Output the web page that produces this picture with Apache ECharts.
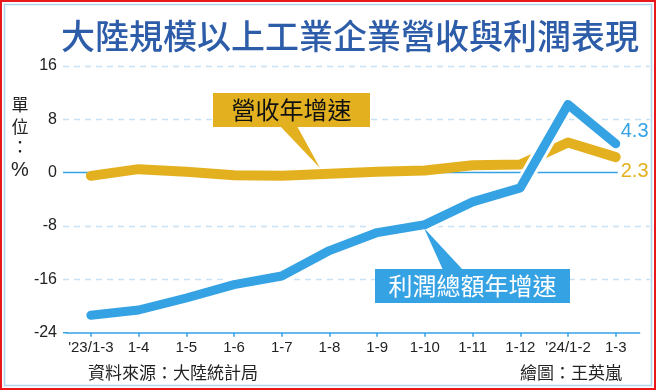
<!DOCTYPE html>
<html><head><meta charset="utf-8">
<script src="https://cdn.jsdelivr.net/npm/echarts@6/dist/echarts.min.js"></script>
<style>html,body{margin:0;padding:0;background:#fff}#c{width:656px;height:390px}</style>
</head><body><div id="c"></div>
<script>
const categories = ["'23/1-3","1-4","1-5","1-6","1-7","1-8","1-9","1-10","1-11","1-12","'24/1-2","1-3"];
const revenueGrowth = [-0.5, 0.5, 0.1, -0.4, -0.5, -0.2, 0.1, 0.3, 1.1, 1.2, 4.5, 2.3];
const profitGrowth = [-21.4, -20.6, -18.8, -16.8, -15.5, -11.7, -9.0, -7.8, -4.4, -2.3, 10.2, 4.3];
const yTicks = [16, 8, 0, -8, -16, -24];
const dashedLevels = [16, 8, -8, -16];

const BLUE = '#35a2e4';
const YELLOW = '#e3b120';
const CJK = '"Noto Sans CJK TC","Noto Sans CJK SC",sans-serif';
const LAT = '"Liberation Sans","DejaVu Sans",sans-serif';

const chart = echarts.init(document.getElementById('c'), null, {renderer: 'canvas'});
chart.setOption({
  animation: false,
  backgroundColor: '#fff',
  grid: {left: 67, right: 16.4, top: 65.7, bottom: 57.3, containLabel: false},
  xAxis: {
    type: 'category', data: categories, boundaryGap: true,
    axisLine: {onZero: false, lineStyle: {color: BLUE, width: 1.5}},
    axisTick: {show: true, alignWithLabel: true, length: 4, lineStyle: {color: BLUE, width: 1.5}},
    axisLabel: {color: '#222', fontSize: 15, fontFamily: '"Liberation Sans Narrow","Liberation Sans",sans-serif', margin: 8, interval: 0},
    splitLine: {show: false}
  },
  yAxis: {
    type: 'value', min: yTicks[yTicks.length - 1], max: yTicks[0], interval: 8,
    axisLine: {show: false}, axisTick: {show: false}, splitLine: {show: false},
    axisLabel: {color: '#222', fontSize: 16, fontFamily: LAT, margin: 10}
  },
  series: [
    {name: '營收年增速', type: 'line', data: revenueGrowth, symbol: 'none', z: 2,
     lineStyle: {color: YELLOW, width: 10, cap: 'round', join: 'round'},
     endLabel: {show: true, formatter: p => p.value.toFixed(1), color: YELLOW, fontSize: 20, fontFamily: LAT, distance: 5, offset: [0, 14]}},
    {name: 'outline', type: 'line', data: profitGrowth, symbol: 'none', z: 3, silent: true,
     lineStyle: {color: '#fff', width: 15, cap: 'round', join: 'round'}},
    {name: '利潤總額年增速', type: 'line', data: profitGrowth, symbol: 'none', z: 4,
     lineStyle: {color: BLUE, width: 9, cap: 'round', join: 'round'},
     endLabel: {show: true, formatter: p => p.value.toFixed(1), color: BLUE, fontSize: 20, fontFamily: LAT, distance: 5, offset: [0, -12]}}
  ]
});

const yPx = v => chart.convertToPixel({yAxisIndex: 0}, v);
const xPx = i => chart.convertToPixel({xAxisIndex: 0}, i);
const g = [];
// frame
g.push({type: 'rect', shape: {x: 1, y: 1, width: 654, height: 388}, style: {fill: 'none', stroke: '#e8181c', lineWidth: 2}, z: 1});
g.push({type: 'rect', shape: {x: 4.5, y: 4.5, width: 647, height: 381}, style: {fill: 'none', stroke: '#b0d4f0', lineWidth: 1.5}, z: 1});
// dashed grid lines
dashedLevels.forEach(v => {
  const y = Math.round(yPx(v)) + 0.5;
  g.push({type: 'line', shape: {x1: 63, y1: y, x2: 650, y2: y}, style: {stroke: '#c8e2f5', lineWidth: 1.5, lineDash: [6, 5]}, z: 0});
});
// zero line
const y0 = yPx(0);
g.push({type: 'line', shape: {x1: 63, y1: y0, x2: xPx(categories.length - 1) + 2, y2: y0}, style: {stroke: BLUE, lineWidth: 1.5}, z: 0});
// axis line extension to left
const yb = yPx(-24);
g.push({type: 'line', shape: {x1: 63, y1: yb, x2: 68, y2: yb}, style: {stroke: BLUE, lineWidth: 1.5}, z: 0});
// title
g.push({type: 'text', x: 61, y: 36, style: {text: '大陸規模以上工業企業營收與利潤表現', fill: '#2d5ca8', font: '500 34px ' + CJK, textVerticalAlign: 'middle'}, z: 5});
// unit label
[['單', 105, CJK, 17], ['位', 127, CJK, 17], ['：', 147, CJK, 17], ['%', 170, LAT, 20]].forEach(([t, y, f, s]) => {
  g.push({type: 'text', x: 20, y: y, style: {text: t, fill: '#222', font: s + 'px ' + f, textAlign: 'center', textVerticalAlign: 'middle'}, z: 5});
});
// revenue annotation
g.push({type: 'polygon', shape: {points: [[280, 126], [297, 126], [320, 168]]}, style: {fill: YELLOW}, z: 6});
g.push({type: 'rect', shape: {x: 213, y: 93, width: 157, height: 34}, style: {fill: YELLOW}, z: 6});
g.push({type: 'text', x: 291.5, y: 110, style: {text: '營收年增速', fill: '#111', font: '24px ' + CJK, textAlign: 'center', textVerticalAlign: 'middle'}, z: 7});
// profit annotation
g.push({type: 'polygon', shape: {points: [[443, 270], [463, 270], [424, 228]]}, style: {fill: BLUE}, z: 6});
g.push({type: 'rect', shape: {x: 375, y: 269, width: 195, height: 34}, style: {fill: BLUE}, z: 6});
g.push({type: 'text', x: 472.5, y: 286, style: {text: '利潤總額年增速', fill: '#fff', font: '24px ' + CJK, textAlign: 'center', textVerticalAlign: 'middle'}, z: 7});
// footer
g.push({type: 'text', x: 88, y: 373, style: {text: '資料來源：大陸統計局', fill: '#222', font: '17px ' + CJK, textVerticalAlign: 'middle'}, z: 5});
g.push({type: 'text', x: 622, y: 373, style: {text: '繪圖：王英嵐', fill: '#222', font: '17px ' + CJK, textAlign: 'right', textVerticalAlign: 'middle'}, z: 5});
chart.setOption({graphic: g});
</script></body></html>
